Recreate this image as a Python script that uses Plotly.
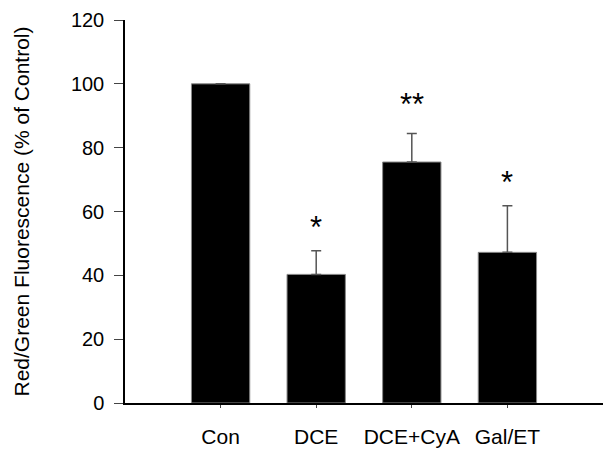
import plotly.graph_objects as go

categories = ["Con", "DCE", "DCE+CyA", "Gal/ET"]
values = [100, 40.3, 75.5, 47.2]
errors_up = [0, 7.4, 8.9, 14.6]
sig_labels = ["", "*", "**", "*"]
sig_y = [None, 56.1, 94.7, 70.3]
y_ticks = [0, 20, 40, 60, 80, 100, 120]

FONT = "Arial, Liberation Sans, sans-serif"

fig = go.Figure()
fig.add_trace(go.Bar(
    x=categories,
    y=values,
    width=0.61,
    marker=dict(color="black", line=dict(color="#888888", width=1)),
    error_y=dict(type="data", symmetric=False, array=errors_up,
                 arrayminus=[0] * len(values), color="#555555",
                 thickness=1.5, width=5, visible=True),
    showlegend=False,
))

for c, lab, yy in zip(categories, sig_labels, sig_y):
    if lab:
        fig.add_annotation(x=c, y=yy, text=lab, showarrow=False,
                           xanchor="center", yanchor="middle", yshift=-4,
                           font=dict(family=FONT, size=31, color="black"))

fig.update_layout(
    width=605, height=454,
    margin=dict(l=125, r=2, t=20, b=51),
    paper_bgcolor="white", plot_bgcolor="white",
    font=dict(family=FONT, size=20, color="black"),
)
fig.update_xaxes(
    type="category", range=[-1, 4], automargin=False,
    showline=True, linecolor="black", linewidth=1.5,
    ticks="outside", ticklen=3, tickcolor="#444444",
    ticklabelstandoff=11,
    tickfont=dict(family=FONT, size=21, color="black"),
    showgrid=False, zeroline=False,
)
fig.update_yaxes(
    range=[0, 120], tickvals=y_ticks, automargin=False,
    showline=True, linecolor="black", linewidth=1.5,
    ticks="outside", ticklen=9, tickcolor="#444444",
    ticklabelstandoff=6,
    tickfont=dict(family=FONT, size=20, color="black"),
    showgrid=False, zeroline=False,
    title=dict(text="Red/Green Fluorescence (% of Control)",
               font=dict(family=FONT, size=21, color="black"), standoff=36),
)

fig.write_html(
    "out.html",
    config={"displayModeBar": False},
    post_script="document.body.style.margin='0';document.body.style.overflow='hidden';",
)
